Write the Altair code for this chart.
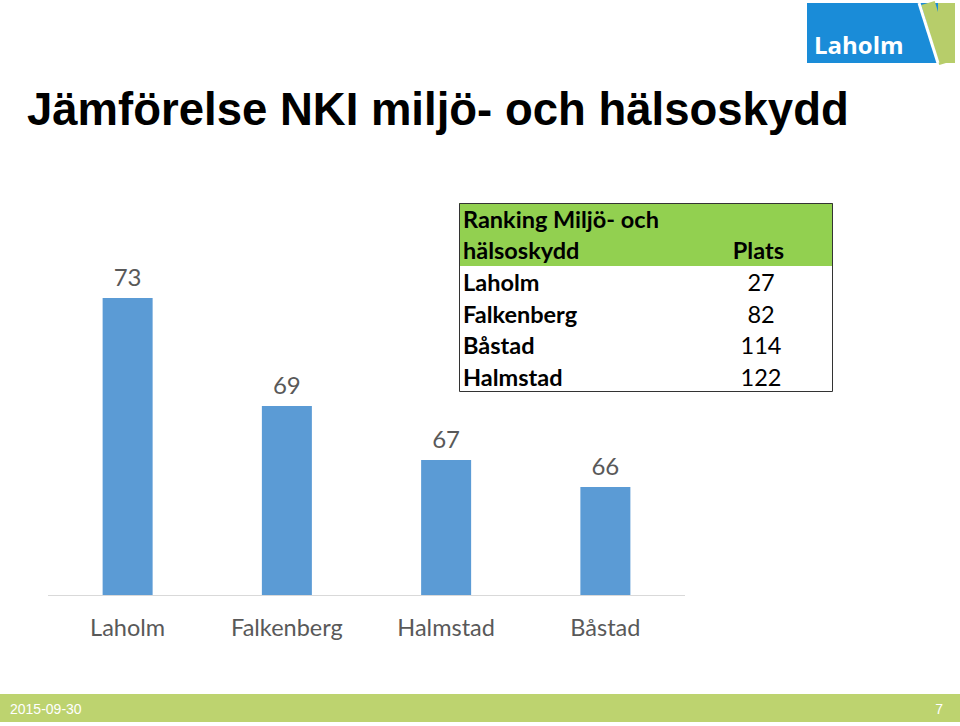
import altair as alt
import pandas as pd

# Bar chart data
kommuner = ["Laholm", "Falkenberg", "Halmstad", "Båstad"]
nki = [73, 69, 67, 66]

# Ranking table data
tab_namn = ["Laholm", "Falkenberg", "Båstad", "Halmstad"]
tab_plats = [27, 82, 114, 122]

titel = "Jämförelse NKI miljö- och hälsoskydd"
datum_text = "2015-09-30"
sida = "7"

bars_df = pd.DataFrame({"kommun": kommuner, "nki": nki})
tab_df = pd.DataFrame({"namn": tab_namn, "plats": tab_plats})
one = pd.DataFrame({"a": [0]})

FONT = "Lato"
GREY = "#595959"

xsc = alt.Scale(domain=kommuner, range=[48, 685], paddingInner=0, paddingOuter=0)
ysc = alt.Scale(domain=[62, 73], range=[595, 298], zero=False, nice=False)

bars = alt.Chart(bars_df).mark_bar(width=50, color="#5b9bd5").encode(
    x=alt.X("kommun:N", sort=kommuner, scale=xsc, axis=None),
    y=alt.Y("nki:Q", scale=ysc, axis=None),
    y2=alt.datum(62),
)
vals = alt.Chart(bars_df).mark_text(font=FONT, fontSize=24, color=GREY, dy=-12, baseline="alphabetic").encode(
    x=alt.X("kommun:N", sort=kommuner, scale=xsc, axis=None),
    y=alt.Y("nki:Q", scale=ysc, axis=None),
    text="nki:Q",
)
cats = alt.Chart(bars_df).mark_text(font=FONT, fontSize=23.5, color=GREY, baseline="alphabetic").encode(
    x=alt.X("kommun:N", sort=kommuner, scale=xsc, axis=None),
    y=alt.value(636),
    text="kommun:N",
)
baseline = alt.Chart(one).mark_rule(color="#d9d9d9", strokeWidth=1).encode(
    x=alt.value(48), x2=alt.value(685), y=alt.value(595.5)
)

title = alt.Chart(one).mark_text(
    text=titel, font="Liberation Sans", fontSize=45.5, fontWeight="bold", color="black",
    align="left", baseline="alphabetic"
).encode(x=alt.value(27), y=alt.value(125))

# Table
head_bg = alt.Chart(one).mark_rect(color="#92d050").encode(
    x=alt.value(459), x2=alt.value(833), y=alt.value(203), y2=alt.value(266)
)
tab_border = alt.Chart(one).mark_rect(fill=None, stroke="#333333", strokeWidth=1).encode(
    x=alt.value(459.5), x2=alt.value(832.5), y=alt.value(203.5), y2=alt.value(391.5)
)
TS = 23.5
h1 = alt.Chart(one).mark_text(text="Ranking Miljö- och", font=FONT, fontSize=TS, fontWeight="bold",
                              align="left", baseline="alphabetic", color="black").encode(
    x=alt.value(463), y=alt.value(228))
h2 = alt.Chart(one).mark_text(text="hälsoskydd", font=FONT, fontSize=TS, fontWeight="bold",
                              align="left", baseline="alphabetic", color="black").encode(
    x=alt.value(463), y=alt.value(259))
h3 = alt.Chart(one).mark_text(text="Plats", font=FONT, fontSize=TS, fontWeight="bold",
                              align="right", baseline="alphabetic", color="black").encode(
    x=alt.value(784), y=alt.value(259))

tsc = alt.Scale(type="point", domain=tab_namn, range=[291, 386], padding=0)
tnames = alt.Chart(tab_df).mark_text(font=FONT, fontSize=TS, fontWeight="bold", align="left",
                                     baseline="alphabetic", color="black").encode(
    x=alt.value(463),
    y=alt.Y("namn:N", sort=tab_namn, scale=tsc, axis=None),
    text="namn:N",
)
tvals = alt.Chart(tab_df).mark_text(font=FONT, fontSize=TS, align="center",
                                    baseline="alphabetic", color="black").encode(
    x=alt.value(761),
    y=alt.Y("namn:N", sort=tab_namn, scale=tsc, axis=None),
    text="plats:Q",
)

# Footer
foot = alt.Chart(one).mark_rect(color="#bdd36f").encode(
    x=alt.value(0), x2=alt.value(960), y=alt.value(694), y2=alt.value(722)
)
foot_d = alt.Chart(one).mark_text(text=datum_text, font="Liberation Sans Narrow, Liberation Sans", fontSize=14,
                                  color="white", align="left", baseline="middle").encode(
    x=alt.value(10), y=alt.value(710))
foot_p = alt.Chart(one).mark_text(text=sida, font="Liberation Sans Narrow, Liberation Sans", fontSize=14,
                                  color="white", align="right", baseline="middle").encode(
    x=alt.value(943), y=alt.value(710))

# Logo
logo_blue = alt.Chart(one).mark_rect(color="#1a8cd8").encode(
    x=alt.value(807), x2=alt.value(955), y=alt.value(3), y2=alt.value(63))
logo_green = alt.Chart(one).mark_rect(color="#b7cd6a").encode(
    x=alt.value(938), x2=alt.value(955), y=alt.value(3), y2=alt.value(63))
logo_green2 = alt.Chart(one).mark_rule(color="#b7cd6a", strokeWidth=14).encode(
    x=alt.value(928), x2=alt.value(946), y=alt.value(3), y2=alt.value(63))
logo_swoosh = alt.Chart(one).mark_rule(color="white", strokeWidth=3).encode(
    x=alt.value(919), x2=alt.value(938), y=alt.value(3), y2=alt.value(63))
logo_text = alt.Chart(one).mark_text(text="Laholm", font="Open Sans", fontSize=24, fontWeight="bold",
                                     color="white", align="left", baseline="alphabetic").encode(
    x=alt.value(814), y=alt.value(54))

chart = alt.layer(
    baseline, bars, vals, cats, title,
    head_bg, tab_border, h1, h2, h3, tnames, tvals,
    foot, foot_d, foot_p,
    logo_blue, logo_green2, logo_green, logo_swoosh, logo_text,
).resolve_scale(y="independent", x="independent").properties(
    width=960, height=726, padding=0, autosize=alt.AutoSizeParams(type="none"),
    background="white"
).configure_view(stroke=None)

chart.save("out.html", embed_options={"renderer": "svg", "actions": False})
